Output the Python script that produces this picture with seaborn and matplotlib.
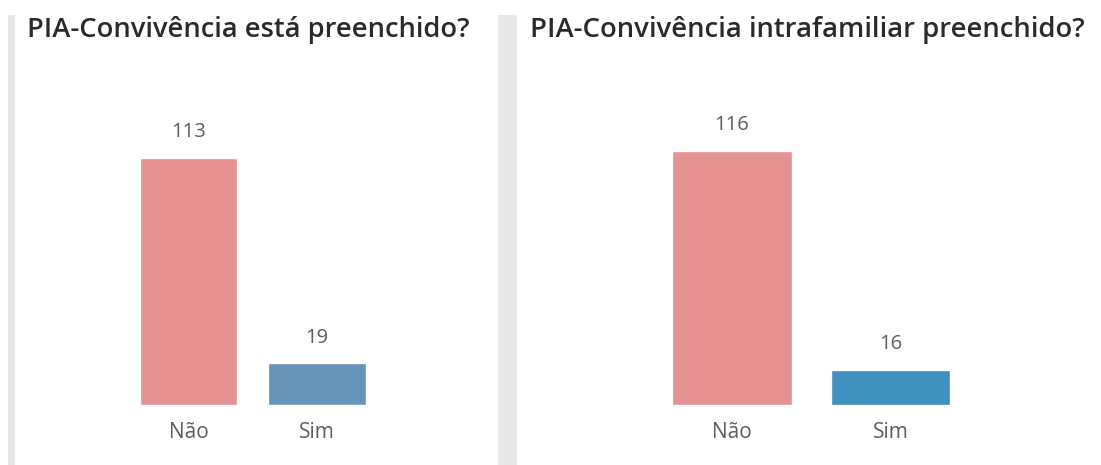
import matplotlib
matplotlib.use("Agg")
import matplotlib.pyplot as plt
import seaborn as sns
import pandas as pd
from matplotlib.patches import Rectangle

# ---------------- data ----------------
categories = ["Não", "Sim"]
left_values = [113, 19]
right_values = [116, 16]
left_title = "PIA-Convivência está preenchido?"
right_title = "PIA-Convivência intrafamiliar preenchido?"

# ---------------- style ----------------
sns.set_theme(style="white")
plt.rcParams['font.family'] = ['Open Sans', 'DejaVu Sans']

W, H = 1101, 465
fig = plt.figure(figsize=(W / 100, H / 100), dpi=100)
fig.patch.set_facecolor("white")

PINK = "#E69192"
left_palette = [PINK, "#6794B9"]
right_palette = [PINK, "#4090C0"]
TITLE_C = "#2B2A29"
LABEL_C = "#605E5C"
STRIP_C = "#E8E8E8"

# grey panel separators
for x0, x1 in [(8, 15), (498, 517)]:
    fig.add_artist(Rectangle((x0 / W, 0), (x1 - x0) / W, (H - 15) / H,
                             transform=fig.transFigure, color=STRIP_C,
                             zorder=0, lw=0))

PX_PER_UNIT = 2.19
YMAX = 130
BASE_Y = 405


def px_axes(x_left, width):
    h = YMAX * PX_PER_UNIT
    return fig.add_axes([x_left / W, (H - BASE_Y) / H, width / W, h / H])


def draw_panel(ax, values, palette):
    df = pd.DataFrame({"cat": categories, "val": values})
    sns.barplot(data=df, x="cat", y="val", hue="cat", palette=palette,
                width=0.755, saturation=1, legend=False, ax=ax)
    ax.set_xlim(-0.5, 1.5)
    ax.set_ylim(0, YMAX)
    ax.set_xlabel("")
    ax.set_ylabel("")
    ax.set_yticks([])
    for s in ax.spines.values():
        s.set_visible(False)
    ax.set_facecolor("none")
    ax.tick_params(axis="x", length=0, pad=12.5, labelsize=15,
                   labelcolor=LABEL_C)
    for bar in ax.patches:
        h = bar.get_height()
        ax.annotate(f"{int(round(h))}",
                    (bar.get_x() + bar.get_width() / 2, h),
                    xytext=(0, 15), textcoords="offset points",
                    ha="center", va="baseline", fontsize=14.5,
                    color=LABEL_C)


axL = px_axes(124.25, 257)
draw_panel(axL, left_values, left_palette)
axR = px_axes(652.75, 317)
draw_panel(axR, right_values, right_palette)

# titles, fitted to the reference widths
renderer = fig.canvas.get_renderer()


def fitted_title(text, x_left, x_right, baseline_y):
    t = fig.text(x_left / W, 1 - baseline_y / H, text, ha="left",
                 va="baseline", fontsize=16, fontweight="semibold",
                 color=TITLE_C)
    for _ in range(3):
        w = t.get_window_extent(renderer).width
        t.set_fontsize(t.get_fontsize() * (x_right - x_left) / w)
    return t


fitted_title(left_title, 27, 470, 36.5)
fitted_title(right_title, 530, 1083, 36.5)

fig.savefig("out.png", dpi=100, facecolor="white")
